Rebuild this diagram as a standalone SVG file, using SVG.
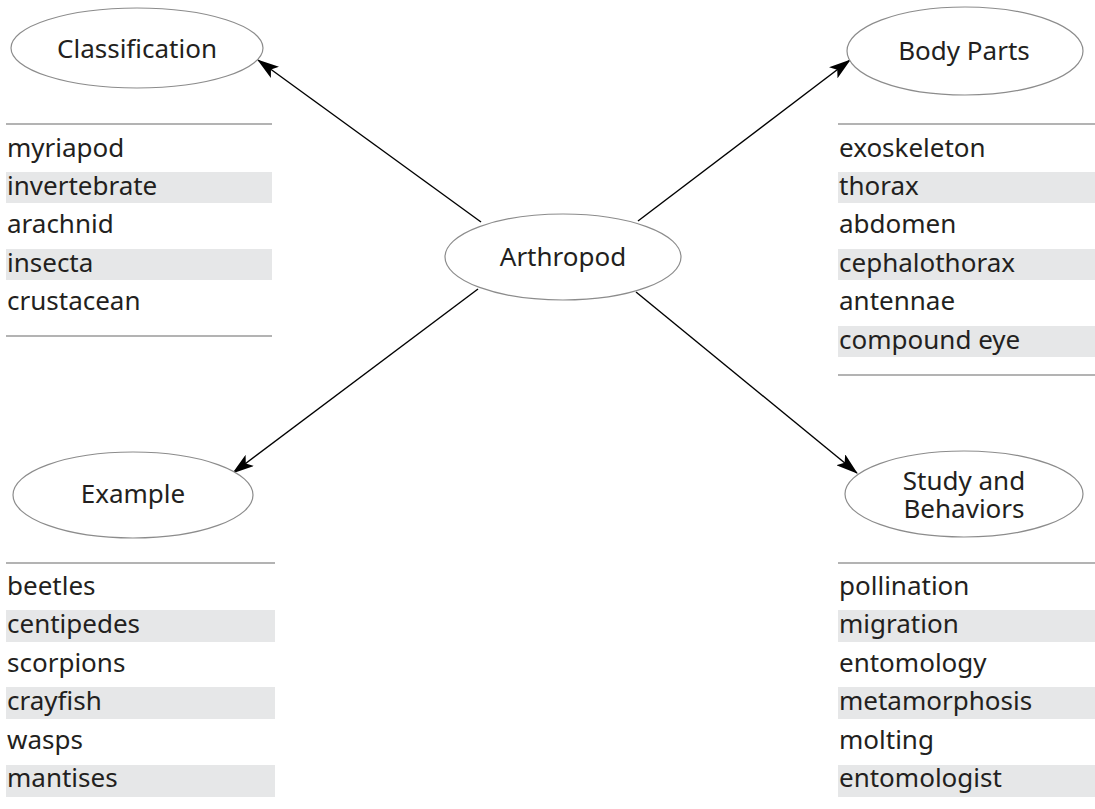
<svg xmlns="http://www.w3.org/2000/svg" width="1095" height="809" viewBox="0 0 1095 809">
<style>
  .node ellipse { fill: #ffffff; stroke: #8c8c8c; stroke-width: 1.2; }
  .lbl { font-family: "Noto Sans", "Open Sans", sans-serif; font-size: 26px; fill: #231f20; text-anchor: middle; }
  .item { font-family: "Noto Sans", "Open Sans", sans-serif; font-size: 26px; fill: #231f20; }
  .band { fill: #e6e7e8; }
  .rule { stroke: #b3b3b3; stroke-width: 2; }
  .conn { stroke: #000000; stroke-width: 1.4; fill: none; marker-end: url(#arrow); }
</style>
<defs>
  <marker id="arrow" markerUnits="userSpaceOnUse" viewBox="0 0 22 14" markerWidth="22" markerHeight="14" refX="21" refY="7" orient="auto">
    <path d="M0,0 L22,7 L0,14 L5,7 Z" fill="#000000"/>
  </marker>
</defs>
<rect width="1095" height="809" fill="#ffffff"/>

<g id="connectors">
  <line class="conn" x1="481" y1="222" x2="258" y2="60"/>
  <line class="conn" x1="638" y1="221" x2="850" y2="60"/>
  <line class="conn" x1="478" y1="289" x2="233" y2="473"/>
  <line class="conn" x1="636" y1="292" x2="857" y2="473"/>
</g>

<g id="arthropod" class="node">
  <ellipse cx="563" cy="257" rx="118" ry="43"/>
  <text class="lbl" x="563" y="266">Arthropod</text>
</g>

<g id="classification" class="node">
  <ellipse cx="137" cy="48" rx="126" ry="40"/>
  <text class="lbl" x="137" y="58">Classification</text>
</g>

<g id="body-parts" class="node">
  <ellipse cx="965" cy="51" rx="118" ry="44"/>
  <text class="lbl" x="964" y="60">Body Parts</text>
</g>

<g id="example" class="node">
  <ellipse cx="133" cy="495" rx="120" ry="43"/>
  <text class="lbl" x="133" y="503">Example</text>
</g>

<g id="study-behaviors" class="node">
  <ellipse cx="964" cy="494" rx="119" ry="43"/>
  <text class="lbl" x="964" y="490">Study and</text>
  <text class="lbl" x="964" y="518">Behaviors</text>
</g>

<g id="classification-list">
  <line class="rule" x1="6" y1="124" x2="272" y2="124"/>
  <rect class="band" x="6" y="172" width="266" height="31"/>
  <rect class="band" x="6" y="249" width="266" height="31"/>
  <text class="item" x="7" y="157">myriapod</text>
  <text class="item" x="7" y="195">invertebrate</text>
  <text class="item" x="7" y="233">arachnid</text>
  <text class="item" x="7" y="272">insecta</text>
  <text class="item" x="7" y="310">crustacean</text>
  <line class="rule" x1="6" y1="336" x2="272" y2="336"/>
</g>

<g id="body-parts-list">
  <line class="rule" x1="838" y1="124" x2="1095" y2="124"/>
  <rect class="band" x="838" y="172" width="257" height="31"/>
  <rect class="band" x="838" y="249" width="257" height="31"/>
  <rect class="band" x="838" y="326" width="257" height="31"/>
  <text class="item" x="839" y="157">exoskeleton</text>
  <text class="item" x="839" y="195">thorax</text>
  <text class="item" x="839" y="233">abdomen</text>
  <text class="item" x="839" y="272">cephalothorax</text>
  <text class="item" x="839" y="310">antennae</text>
  <text class="item" x="839" y="349">compound eye</text>
  <line class="rule" x1="838" y1="375" x2="1095" y2="375"/>
</g>

<g id="example-list">
  <line class="rule" x1="6" y1="563" x2="275" y2="563"/>
  <rect class="band" x="6" y="610" width="269" height="32"/>
  <rect class="band" x="6" y="687" width="269" height="32"/>
  <rect class="band" x="6" y="765" width="269" height="32"/>
  <text class="item" x="7" y="595">beetles</text>
  <text class="item" x="7" y="633">centipedes</text>
  <text class="item" x="7" y="672">scorpions</text>
  <text class="item" x="7" y="710">crayfish</text>
  <text class="item" x="7" y="749">wasps</text>
  <text class="item" x="7" y="787">mantises</text>
</g>

<g id="study-list">
  <line class="rule" x1="838" y1="563" x2="1095" y2="563"/>
  <rect class="band" x="838" y="610" width="257" height="32"/>
  <rect class="band" x="838" y="687" width="257" height="32"/>
  <rect class="band" x="838" y="765" width="257" height="32"/>
  <text class="item" x="839" y="595">pollination</text>
  <text class="item" x="839" y="633">migration</text>
  <text class="item" x="839" y="672">entomology</text>
  <text class="item" x="839" y="710">metamorphosis</text>
  <text class="item" x="839" y="749">molting</text>
  <text class="item" x="839" y="787">entomologist</text>
</g>
</svg>
